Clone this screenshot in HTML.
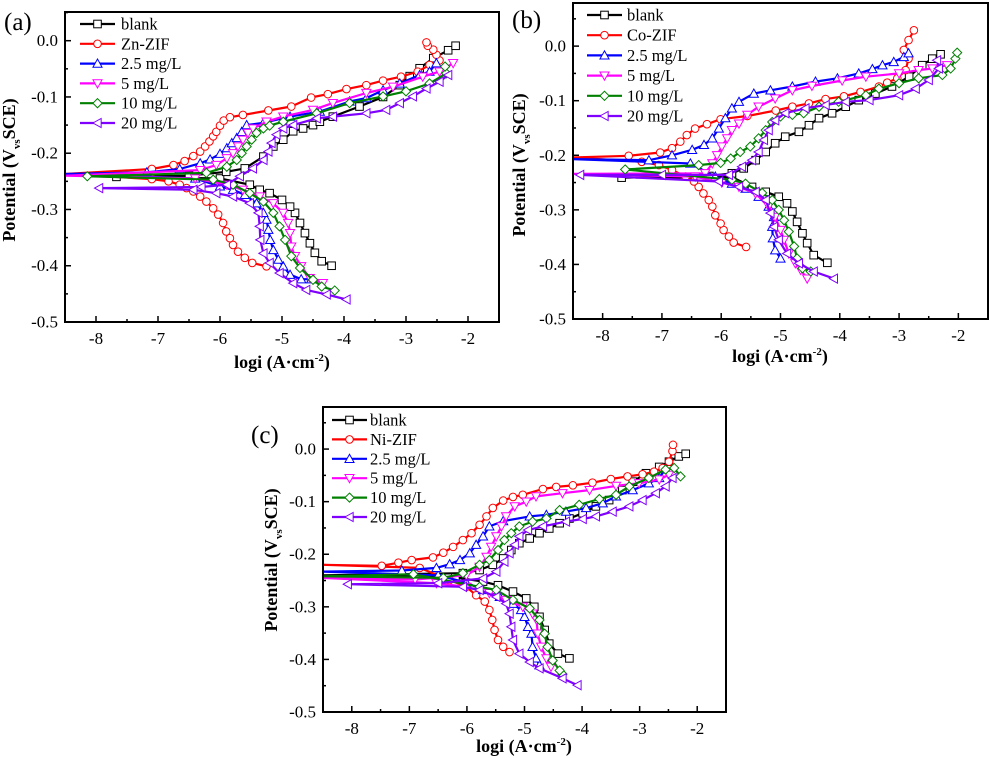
<!DOCTYPE html>
<html><head><meta charset="utf-8"><style>
html,body{margin:0;padding:0;background:#fff;}
svg{display:block;font-family:"Liberation Serif",serif;}
</style></head><body>
<svg id="fig" width="989" height="758" viewBox="0 0 989 758"></svg>
<script>
// ---------- data: [logi, potential] pairs (cathodic end -> Ecorr region -> anodic end) ----------
const seriesNames = ["blank","ZIF","2.5 mg/L","5 mg/L","10 mg/L","20 mg/L"];
const zifNames = ["Zn-ZIF","Co-ZIF","Ni-ZIF"];
const yTicksA = [0.0,-0.1,-0.2,-0.3,-0.4,-0.5];
const xTicks = [-8,-7,-6,-5,-4,-3,-2];

// panel (a)
const aBlank = [[-4.2,-0.4],[-4.36,-0.392],[-4.47,-0.377],[-4.55,-0.36],[-4.63,-0.342],[-4.71,-0.324],[-4.79,-0.306],[-4.87,-0.295],[-5.0,-0.283],[-5.2,-0.271],[-5.36,-0.265],[-5.52,-0.256],[-6.0,-0.245],[-7.67,-0.242],[-6.5,-0.24],[-5.9,-0.233],[-5.6,-0.227],[-5.3,-0.206],[-5.14,-0.188],[-4.98,-0.176],[-4.82,-0.161],[-4.66,-0.156],[-4.5,-0.15],[-4.39,-0.144],[-4.18,-0.135],[-3.75,-0.117],[-3.37,-0.1],[-3.1,-0.079],[-2.94,-0.063],[-2.78,-0.049],[-2.56,-0.031],[-2.32,-0.017],[-2.2,-0.009]];
const aZif = [[-5.25,-0.401],[-5.48,-0.395],[-5.6,-0.386],[-5.71,-0.375],[-5.79,-0.363],[-5.84,-0.351],[-5.9,-0.339],[-5.95,-0.324],[-6.03,-0.309],[-6.11,-0.298],[-6.22,-0.286],[-6.32,-0.277],[-6.43,-0.268],[-6.54,-0.262],[-6.65,-0.256],[-6.83,-0.25],[-7.1,-0.246],[-8.5,-0.237],[-7.1,-0.228],[-6.75,-0.221],[-6.57,-0.214],[-6.43,-0.205],[-6.32,-0.197],[-6.24,-0.188],[-6.17,-0.179],[-6.11,-0.17],[-6.06,-0.162],[-6.0,-0.151],[-5.94,-0.142],[-5.84,-0.136],[-5.63,-0.132],[-5.22,-0.124],[-4.85,-0.117],[-4.53,-0.101],[-4.26,-0.095],[-3.96,-0.086],[-3.64,-0.079],[-3.37,-0.071],[-3.08,-0.064],[-2.81,-0.055],[-2.62,-0.043],[-2.46,-0.035],[-2.51,-0.025],[-2.56,-0.016],[-2.65,-0.009],[-2.67,-0.003]];
const a25 = [[-4.53,-0.424],[-4.69,-0.424],[-4.87,-0.416],[-4.98,-0.401],[-5.06,-0.389],[-5.14,-0.372],[-5.19,-0.354],[-5.22,-0.336],[-5.25,-0.318],[-5.3,-0.306],[-5.41,-0.289],[-5.6,-0.274],[-5.79,-0.265],[-6.0,-0.259],[-6.4,-0.245],[-8.5,-0.237],[-7.18,-0.234],[-6.65,-0.228],[-6.32,-0.218],[-6.16,-0.211],[-6.0,-0.201],[-5.89,-0.191],[-5.81,-0.182],[-5.73,-0.173],[-5.65,-0.162],[-5.57,-0.15],[-5.3,-0.146],[-4.87,-0.135],[-4.39,-0.126],[-3.91,-0.108],[-3.64,-0.102],[-3.37,-0.088],[-3.1,-0.076],[-2.78,-0.061],[-2.62,-0.055],[-2.51,-0.04]];
const a5 = [[-4.34,-0.431],[-4.55,-0.422],[-4.69,-0.401],[-4.79,-0.383],[-4.85,-0.366],[-4.87,-0.342],[-4.9,-0.324],[-4.98,-0.306],[-5.14,-0.289],[-5.36,-0.277],[-5.63,-0.265],[-5.89,-0.256],[-6.4,-0.245],[-8.5,-0.24],[-6.32,-0.23],[-6.06,-0.221],[-5.89,-0.209],[-5.79,-0.2],[-5.71,-0.188],[-5.63,-0.176],[-5.55,-0.164],[-5.47,-0.156],[-5.25,-0.144],[-4.98,-0.135],[-4.5,-0.123],[-4.18,-0.111],[-3.64,-0.093],[-3.21,-0.082],[-2.73,-0.064],[-2.46,-0.055],[-2.24,-0.04]];
const a10 = [[-4.15,-0.444],[-4.36,-0.437],[-4.5,-0.425],[-4.71,-0.404],[-4.85,-0.383],[-4.95,-0.354],[-5.04,-0.33],[-5.14,-0.306],[-5.3,-0.286],[-5.52,-0.271],[-5.79,-0.256],[-6.11,-0.247],[-8.14,-0.241],[-6.22,-0.235],[-5.89,-0.224],[-5.73,-0.212],[-5.65,-0.2],[-5.57,-0.188],[-5.49,-0.176],[-5.41,-0.164],[-5.3,-0.156],[-5.2,-0.151],[-4.98,-0.144],[-4.44,-0.129],[-3.91,-0.111],[-3.37,-0.099],[-3.0,-0.09],[-2.62,-0.076],[-2.35,-0.058],[-2.37,-0.046]];
const a20 = [[-3.96,-0.46],[-4.28,-0.451],[-4.61,-0.443],[-4.82,-0.431],[-5.04,-0.413],[-5.2,-0.395],[-5.3,-0.378],[-5.35,-0.354],[-5.36,-0.33],[-5.38,-0.306],[-5.52,-0.289],[-5.79,-0.277],[-6.06,-0.271],[-6.43,-0.265],[-7.95,-0.262],[-6.3,-0.26],[-5.89,-0.256],[-5.68,-0.241],[-5.47,-0.227],[-5.3,-0.212],[-5.22,-0.197],[-5.17,-0.182],[-5.09,-0.167],[-4.98,-0.156],[-4.82,-0.15],[-4.44,-0.138],[-4.18,-0.135],[-3.64,-0.129],[-3.32,-0.123],[-3.1,-0.111],[-2.89,-0.099],[-2.67,-0.085],[-2.46,-0.073],[-2.32,-0.061]];

// panel (b)
const bBlank = [[-4.21,-0.397],[-4.44,-0.383],[-4.55,-0.361],[-4.63,-0.343],[-4.72,-0.322],[-4.8,-0.303],[-4.89,-0.288],[-5.03,-0.276],[-5.25,-0.267],[-5.48,-0.258],[-5.82,-0.24],[-7.68,-0.241],[-6.2,-0.238],[-5.82,-0.233],[-5.62,-0.224],[-5.42,-0.209],[-5.25,-0.194],[-5.09,-0.178],[-4.92,-0.166],[-4.69,-0.157],[-4.52,-0.145],[-4.35,-0.132],[-4.13,-0.123],[-3.9,-0.111],[-3.68,-0.099],[-3.4,-0.087],[-3.12,-0.074],[-2.83,-0.056],[-2.61,-0.035],[-2.44,-0.023],[-2.3,-0.015]];
const bZif = [[-5.58,-0.368],[-5.79,-0.36],[-5.87,-0.349],[-5.96,-0.337],[-6.01,-0.325],[-6.1,-0.31],[-6.15,-0.294],[-6.21,-0.282],[-6.3,-0.27],[-6.38,-0.258],[-6.46,-0.248],[-6.6,-0.239],[-6.83,-0.227],[-7.05,-0.218],[-7.34,-0.212],[-8.5,-0.204],[-7.56,-0.201],[-7.03,-0.195],[-6.83,-0.187],[-6.69,-0.175],[-6.58,-0.163],[-6.44,-0.151],[-6.24,-0.143],[-6.01,-0.134],[-5.56,-0.128],[-5.08,-0.118],[-4.8,-0.111],[-4.52,-0.105],[-4.24,-0.097],[-3.93,-0.092],[-3.65,-0.084],[-3.34,-0.074],[-3.2,-0.067],[-3.03,-0.059],[-2.89,-0.044],[-2.84,-0.023],[-2.92,-0.007],[-2.84,0.011],[-2.75,0.029]];
const b25 = [[-5.0,-0.389],[-5.09,-0.374],[-5.13,-0.352],[-5.14,-0.331],[-5.11,-0.313],[-5.2,-0.294],[-5.37,-0.276],[-5.59,-0.261],[-5.82,-0.252],[-6.1,-0.239],[-6.52,-0.215],[-8.5,-0.207],[-7.22,-0.209],[-6.83,-0.2],[-6.49,-0.19],[-6.29,-0.181],[-6.15,-0.169],[-6.04,-0.151],[-5.93,-0.132],[-5.82,-0.114],[-5.7,-0.102],[-5.45,-0.087],[-5.17,-0.081],[-4.8,-0.074],[-4.41,-0.065],[-4.04,-0.059],[-3.68,-0.05],[-3.45,-0.042],[-3.28,-0.035],[-3.09,-0.029],[-2.92,-0.02],[-2.84,-0.013]];
const b5 = [[-4.55,-0.426],[-4.66,-0.41],[-4.75,-0.398],[-4.86,-0.38],[-4.94,-0.355],[-5.0,-0.337],[-5.09,-0.313],[-5.2,-0.294],[-5.42,-0.27],[-5.7,-0.258],[-5.99,-0.25],[-6.44,-0.239],[-8.5,-0.234],[-6.27,-0.233],[-6.15,-0.215],[-6.07,-0.2],[-5.99,-0.184],[-5.9,-0.169],[-5.82,-0.154],[-5.7,-0.142],[-5.56,-0.126],[-5.37,-0.111],[-5.09,-0.096],[-4.8,-0.081],[-4.47,-0.073],[-3.96,-0.063],[-3.56,-0.056],[-3.0,-0.05],[-2.67,-0.044],[-2.44,-0.041],[-2.19,-0.035]];
const b10 = [[-4.49,-0.413],[-4.63,-0.407],[-4.72,-0.389],[-4.77,-0.367],[-4.86,-0.34],[-4.94,-0.319],[-5.03,-0.3],[-5.14,-0.282],[-5.31,-0.269],[-5.59,-0.252],[-5.82,-0.245],[-7.62,-0.226],[-6.38,-0.218],[-6.01,-0.214],[-5.84,-0.206],[-5.68,-0.194],[-5.51,-0.184],[-5.37,-0.169],[-5.25,-0.154],[-5.14,-0.139],[-5.0,-0.129],[-4.8,-0.126],[-4.61,-0.123],[-4.35,-0.111],[-4.02,-0.102],[-3.56,-0.09],[-3.34,-0.078],[-3.0,-0.068],[-2.67,-0.059],[-2.27,-0.053],[-2.13,-0.041],[-2.05,-0.023],[-2.02,-0.012]];
const b20 = [[-4.1,-0.426],[-4.44,-0.413],[-4.69,-0.398],[-4.89,-0.38],[-5.03,-0.355],[-5.11,-0.331],[-5.17,-0.306],[-5.25,-0.282],[-5.42,-0.267],[-5.7,-0.258],[-6.04,-0.248],[-8.38,-0.236],[-7.0,-0.236],[-5.87,-0.236],[-5.65,-0.221],[-5.48,-0.209],[-5.37,-0.194],[-5.28,-0.172],[-5.2,-0.154],[-5.09,-0.136],[-4.92,-0.123],[-4.58,-0.114],[-4.24,-0.108],[-3.9,-0.102],[-3.5,-0.099],[-3.0,-0.09],[-2.72,-0.078],[-2.5,-0.062],[-2.33,-0.041],[-2.36,-0.026]];

// panel (c)
const cBlank = [[-4.22,-0.398],[-4.42,-0.389],[-4.57,-0.37],[-4.65,-0.344],[-4.74,-0.319],[-4.83,-0.3],[-4.97,-0.284],[-5.2,-0.271],[-5.46,-0.259],[-5.72,-0.252],[-6.2,-0.244],[-8.5,-0.24],[-6.07,-0.236],[-5.78,-0.23],[-5.55,-0.22],[-5.37,-0.208],[-5.23,-0.192],[-5.09,-0.179],[-4.91,-0.17],[-4.74,-0.16],[-4.57,-0.151],[-4.39,-0.141],[-4.22,-0.132],[-3.99,-0.122],[-3.76,-0.109],[-3.53,-0.097],[-3.3,-0.078],[-3.12,-0.062],[-2.89,-0.046],[-2.66,-0.034],[-2.49,-0.024],[-2.32,-0.014],[-2.2,-0.009]];
const cZif = [[-5.26,-0.386],[-5.37,-0.376],[-5.46,-0.363],[-5.52,-0.344],[-5.56,-0.325],[-5.61,-0.306],[-5.69,-0.29],[-5.84,-0.278],[-6.01,-0.262],[-6.3,-0.249],[-6.82,-0.226],[-8.5,-0.22],[-7.48,-0.222],[-7.19,-0.216],[-6.96,-0.211],[-6.59,-0.206],[-6.41,-0.197],[-6.24,-0.186],[-6.07,-0.173],[-5.92,-0.16],[-5.78,-0.144],[-5.66,-0.128],[-5.55,-0.112],[-5.37,-0.098],[-5.2,-0.091],[-5.03,-0.087],[-4.68,-0.076],[-4.45,-0.072],[-4.16,-0.069],[-3.82,-0.064],[-3.5,-0.057],[-3.21,-0.052],[-2.95,-0.048],[-2.75,-0.043],[-2.6,-0.036],[-2.49,-0.024],[-2.43,-0.004],[-2.42,0.008]];
const c25 = [[-4.74,-0.411],[-4.8,-0.398],[-4.86,-0.376],[-4.88,-0.351],[-4.94,-0.338],[-5.0,-0.319],[-5.06,-0.306],[-5.2,-0.294],[-5.43,-0.281],[-5.72,-0.268],[-6.01,-0.254],[-6.5,-0.24],[-8.5,-0.233],[-7.13,-0.231],[-6.53,-0.226],[-6.3,-0.219],[-6.12,-0.211],[-5.95,-0.198],[-5.84,-0.182],[-5.72,-0.166],[-5.61,-0.147],[-5.37,-0.137],[-4.91,-0.128],[-4.62,-0.125],[-4.28,-0.119],[-3.93,-0.112],[-3.64,-0.103],[-3.41,-0.09],[-3.12,-0.078],[-2.84,-0.065],[-2.66,-0.055],[-2.55,-0.038]];
const c5 = [[-4.54,-0.414],[-4.62,-0.398],[-4.71,-0.376],[-4.77,-0.351],[-4.79,-0.325],[-4.86,-0.313],[-5.03,-0.3],[-5.32,-0.287],[-5.61,-0.274],[-6.01,-0.262],[-6.53,-0.255],[-8.5,-0.245],[-6.9,-0.248],[-6.01,-0.24],[-5.78,-0.224],[-5.66,-0.205],[-5.58,-0.186],[-5.49,-0.166],[-5.4,-0.147],[-5.32,-0.128],[-5.17,-0.109],[-4.97,-0.1],[-4.8,-0.09],[-4.34,-0.084],[-3.87,-0.078],[-3.41,-0.07],[-3.01,-0.065],[-2.66,-0.058],[-2.49,-0.049]];
const c10 = [[-4.34,-0.428],[-4.39,-0.421],[-4.51,-0.402],[-4.6,-0.376],[-4.65,-0.351],[-4.74,-0.325],[-4.91,-0.303],[-5.2,-0.287],[-5.49,-0.268],[-5.78,-0.262],[-6.93,-0.238],[-8.5,-0.242],[-6.41,-0.245],[-6.07,-0.236],[-5.78,-0.22],[-5.61,-0.211],[-5.46,-0.192],[-5.35,-0.173],[-5.23,-0.16],[-5.09,-0.147],[-4.86,-0.138],[-4.62,-0.132],[-4.39,-0.116],[-4.05,-0.106],[-3.7,-0.095],[-3.41,-0.087],[-3.18,-0.071],[-2.84,-0.055],[-2.55,-0.039],[-2.4,-0.036],[-2.29,-0.052]];
const c20 = [[-4.08,-0.449],[-4.34,-0.436],[-4.74,-0.417],[-4.91,-0.405],[-5.09,-0.389],[-5.2,-0.363],[-5.23,-0.338],[-5.26,-0.313],[-5.32,-0.294],[-5.49,-0.281],[-5.78,-0.268],[-6.07,-0.262],[-8.07,-0.257],[-6.5,-0.255],[-5.72,-0.246],[-5.49,-0.233],[-5.35,-0.214],[-5.26,-0.198],[-5.17,-0.182],[-5.09,-0.166],[-4.94,-0.154],[-4.68,-0.147],[-4.28,-0.138],[-3.99,-0.133],[-3.76,-0.128],[-3.47,-0.119],[-3.18,-0.109],[-2.95,-0.097],[-2.72,-0.084],[-2.55,-0.071],[-2.43,-0.055]];

// ---------- rendering ----------
const NS = "http://www.w3.org/2000/svg";
const svg = document.getElementById("fig");
const colors = ["#000000","#ff0000","#0000ff","#ff00ff","#008000","#7f00ff"];
const markers = ["square","circle","up","down","diamond","left"];

function mk(tag, attrs, parent){
  const e = document.createElementNS(NS, tag);
  for (const k in attrs) e.setAttribute(k, attrs[k]);
  (parent||svg).appendChild(e);
  return e;
}
function markerShape(type, cx, cy, col, parent){
  const r = 3.8;
  let e;
  if (type==="circle") e = mk("circle",{cx:cx,cy:cy,r:r},parent);
  else if (type==="square") e = mk("rect",{x:cx-r,y:cy-r,width:2*r,height:2*r},parent);
  else {
    let p;
    const s = r*1.2;
    if (type==="up") p=[[cx,cy-s],[cx+s,cy+s*0.8],[cx-s,cy+s*0.8]];
    else if (type==="down") p=[[cx,cy+s],[cx+s,cy-s*0.8],[cx-s,cy-s*0.8]];
    else if (type==="left") p=[[cx-s,cy],[cx+s*0.8,cy-s],[cx+s*0.8,cy+s]];
    else p=[[cx,cy-s],[cx+s,cy],[cx,cy+s],[cx-s,cy]];
    e = mk("polygon",{points:p.map(q=>q.join(",")).join(" ")},parent);
  }
  e.setAttribute("fill","#fff");
  e.setAttribute("stroke",col);
  e.setAttribute("stroke-width","1");
  return e;
}

const panels = [
  {id:"a", label:"(a)", zif:zifNames[0], data:[aBlank,aZif,a25,a5,a10,a20],
   L:65,T:12,R:499,B:322, yMax:0.051, lab:[4,30], leg:{x1:80,x2:115,tx:121,y0:24,dy:19.8},
   xt:[282,368], yt:[15,170]},
  {id:"b", label:"(b)", zif:zifNames[1], data:[bBlank,bZif,b25,b5,b10,b20],
   L:573,T:3,R:988,B:319, yMax:0.079, lab:[512,28], leg:{x1:587,x2:622,tx:627,y0:15,dy:20.2},
   xt:[780,362], yt:[525,165]},
  {id:"c", label:"(c)", zif:zifNames[2], data:[cBlank,cZif,c25,c5,c10,c20],
   L:323,T:407,R:726,B:712, yMax:0.08, lab:[251,443], leg:{x1:332,x2:367,tx:370,y0:420,dy:19.4},
   xt:[524,752], yt:[277,560]}
];

panels.forEach(P=>{
  const g = mk("g",{});
  
  
  const xs = v => P.L + (v+8.5)/7*(P.R-P.L);
  const ys = v => P.T + (P.yMax - v)/(P.yMax+0.5)*(P.B-P.T);

  const sg = mk("g",{},g);
  
  
  P.data.forEach((pts,i)=>{
    const s = mk("g",{},sg);
    
    
    const line = mk("polyline",{points:pts.map(p=>xs(p[0]).toFixed(1)+","+ys(p[1]).toFixed(1)).join(" "),
      fill:"none",stroke:colors[i],"stroke-width":"2.2","stroke-linejoin":"round"},s);
    
    
    pts.forEach(p=>{
      if (p[0] <= -8.45) return;
      const m = markerShape(markers[i], xs(p[0]), ys(p[1]), colors[i], s);
      
      
    });
  });

  const fr = mk("rect",{x:P.L,y:P.T,width:P.R-P.L,height:P.B-P.T,fill:"none",stroke:"#000","stroke-width":"2"},g);
  
  

  xTicks.forEach(t=>{
    const X = xs(t);
    mk("line",{x1:X,x2:X,y1:P.B,y2:P.B-6,stroke:"#000","stroke-width":"1.5"},g);
    const tx = mk("text",{x:X,y:P.B+22,"text-anchor":"middle","font-size":"17"},g);
    tx.textContent = String(t);
    
    
    if (t < -2) { const Xm = xs(t+0.5); mk("line",{x1:Xm,x2:Xm,y1:P.B,y2:P.B-3,stroke:"#000","stroke-width":"1.5"},g); }
  });
  yTicksA.forEach(t=>{
    const Y = ys(t);
    mk("line",{x1:P.L,x2:P.L+6,y1:Y,y2:Y,stroke:"#000","stroke-width":"1.5"},g);
    const ty = mk("text",{x:P.L-7,y:Y+5.5,"text-anchor":"end","font-size":"17"},g);
    ty.textContent = t===0?"0.0":t.toFixed(1);
    
    
    const Ym = ys(t+0.05);
    if (t+0.05 < P.yMax) mk("line",{x1:P.L,x2:P.L+3,y1:Ym,y2:Ym,stroke:"#000","stroke-width":"1.5"},g);
  });

  const xtl = mk("text",{x:P.xt[0],y:P.xt[1],"text-anchor":"middle","font-size":"18","font-weight":"bold"},g);
  xtl.innerHTML = 'logi (A·cm<tspan dy="-7" font-size="11">-2</tspan><tspan dy="7">)</tspan>';
  
  
  const ytl = mk("text",{x:0,y:0,"text-anchor":"middle","font-size":"18","font-weight":"bold",
    transform:"translate("+P.yt[0]+","+P.yt[1]+") rotate(-90)"},g);
  ytl.innerHTML = 'Potential (V<tspan dy="5" font-size="11">vs</tspan><tspan dy="-5">SCE)</tspan>';
  
  

  const pl = mk("text",{x:P.lab[0],y:P.lab[1],"font-size":"25"},g);
  pl.textContent = P.label;
  
  

  const lg = mk("g",{},g);
  
  
  seriesNames.forEach((n,i)=>{
    const Y = P.leg.y0 + i*P.leg.dy;
    const e = mk("g",{},lg);
    
    
    mk("line",{x1:P.leg.x1,x2:P.leg.x2,y1:Y,y2:Y,stroke:colors[i],"stroke-width":"2.2"},e);
    markerShape(markers[i],(P.leg.x1+P.leg.x2)/2,Y,colors[i],e);
    const t = mk("text",{x:P.leg.tx,y:Y+5.5,"font-size":"16.5"},e);
    t.textContent = i===1?P.zif:n;
  });
});
</script>
</body></html>
